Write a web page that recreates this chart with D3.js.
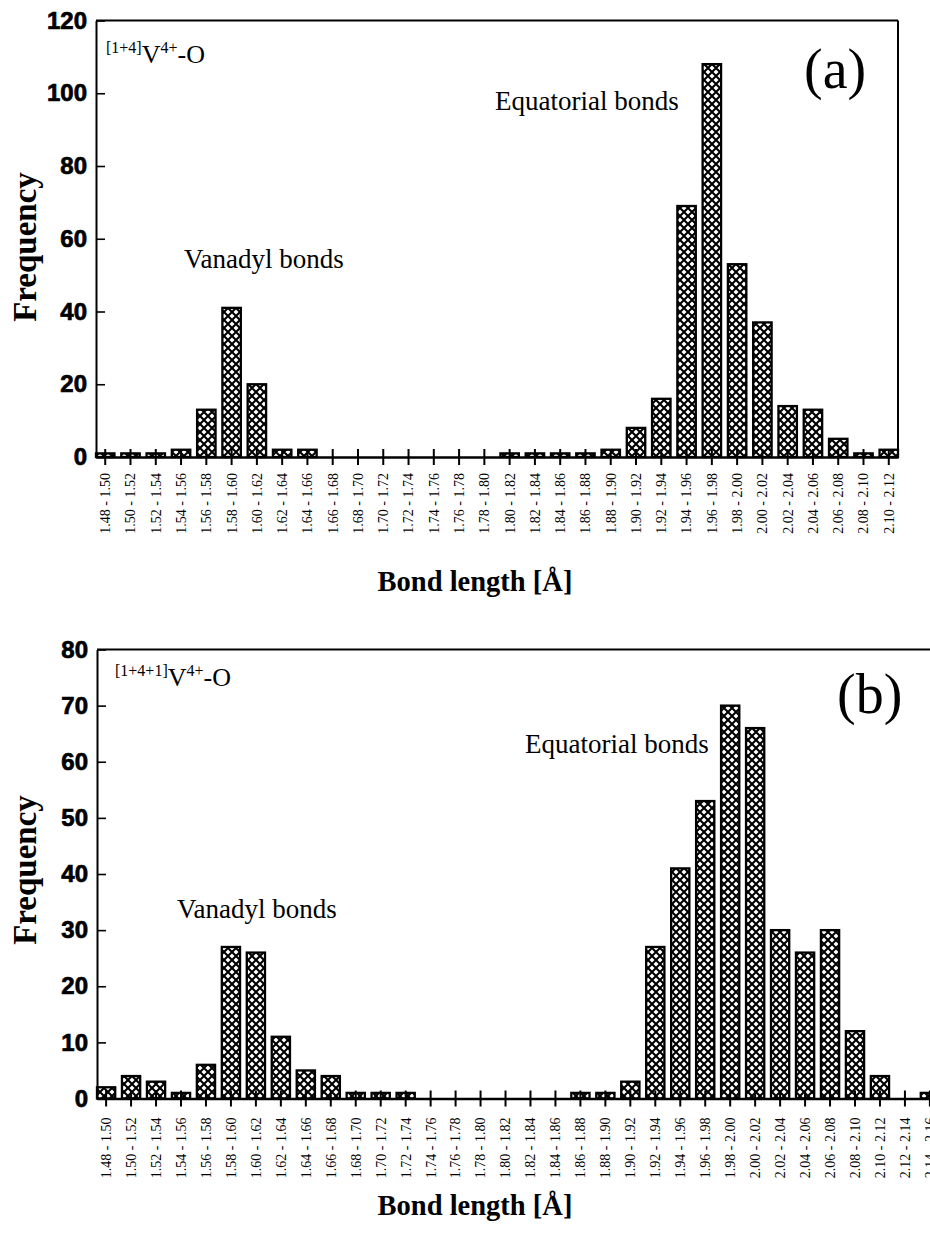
<!DOCTYPE html>
<html>
<head>
<meta charset="utf-8">
<script src="https://cdn.jsdelivr.net/npm/d3@7"></script>
<style>
  body { margin: 0; background: #fff; }
  svg { display: block; }
</style>
</head>
<body>
<div id="chart"></div>
<script>
// ------------------------------------
// Data
// ------------------------------------
const binsA = [
  "1.48 - 1.50", "1.50 - 1.52", "1.52 - 1.54", "1.54 - 1.56", "1.56 - 1.58",
  "1.58 - 1.60", "1.60 - 1.62", "1.62 - 1.64", "1.64 - 1.66", "1.66 - 1.68",
  "1.68 - 1.70", "1.70 - 1.72", "1.72 - 1.74", "1.74 - 1.76", "1.76 - 1.78",
  "1.78 - 1.80", "1.80 - 1.82", "1.82 - 1.84", "1.84 - 1.86", "1.86 - 1.88",
  "1.88 - 1.90", "1.90 - 1.92", "1.92 - 1.94", "1.94 - 1.96", "1.96 - 1.98",
  "1.98 - 2.00", "2.00 - 2.02", "2.02 - 2.04", "2.04 - 2.06", "2.06 - 2.08",
  "2.08 - 2.10", "2.10 - 2.12"
];
const countsA = [
  1, 1, 1, 2, 13, 41, 20, 2, 2, 0,
  0, 0, 0, 0, 0, 0, 1, 1, 1, 1,
  2, 8, 16, 69, 108, 53, 37, 14, 13, 5,
  1, 2
];
const yTicksA = [0, 20, 40, 60, 80, 100, 120];

const binsB = [
  "1.48 - 1.50", "1.50 - 1.52", "1.52 - 1.54", "1.54 - 1.56", "1.56 - 1.58",
  "1.58 - 1.60", "1.60 - 1.62", "1.62 - 1.64", "1.64 - 1.66", "1.66 - 1.68",
  "1.68 - 1.70", "1.70 - 1.72", "1.72 - 1.74", "1.74 - 1.76", "1.76 - 1.78",
  "1.78 - 1.80", "1.80 - 1.82", "1.82 - 1.84", "1.84 - 1.86", "1.86 - 1.88",
  "1.88 - 1.90", "1.90 - 1.92", "1.92 - 1.94", "1.94 - 1.96", "1.96 - 1.98",
  "1.98 - 2.00", "2.00 - 2.02", "2.02 - 2.04", "2.04 - 2.06", "2.06 - 2.08",
  "2.08 - 2.10", "2.10 - 2.12", "2.12 - 2.14", "2.14 - 2.16"
];
const countsB = [
  2, 4, 3, 1, 6, 27, 26, 11, 5, 4,
  1, 1, 1, 0, 0, 0, 0, 0, 0, 1,
  1, 3, 27, 41, 53, 70, 66, 30, 26, 30,
  12, 4, 0, 1
];
const yTicksB = [0, 10, 20, 30, 40, 50, 60, 70, 80];

// ------------------------------------
// Canvas
// ------------------------------------
const W = 930, H = 1245;
const serif = "'Liberation Serif', 'Times New Roman', Times, serif";
const sans = "'Liberation Sans', Arial, Helvetica, sans-serif";

const svg = d3.select("#chart").append("svg")
    .attr("width", W)
    .attr("height", H)
    .style("background", "#fff");

// crosshatch fill (white diamonds, black lines)
const defs = svg.append("defs");
const pat = defs.append("pattern")
    .attr("id", "hatch")
    .attr("patternUnits", "userSpaceOnUse")
    .attr("width", 8)
    .attr("height", 8);
pat.append("rect").attr("width", 8).attr("height", 8).attr("fill", "#fff");
pat.append("path")
    .attr("d", "M-1,-1 L9,9 M-1,9 L9,-1")
    .attr("stroke", "#000")
    .attr("stroke-width", 2.1);

// ------------------------------------
// One histogram panel
// ------------------------------------
function drawPanel(cfg) {
  const g = svg.append("g");

  const x = d3.scaleBand()
      .domain(cfg.bins)
      .range(cfg.xRange)
      .paddingInner(0.27)
      .paddingOuter(0);

  const y = d3.scaleLinear()
      .domain([0, d3.max(cfg.yTicks)])
      .range(cfg.yRange);

  // frame (top + optional right)
  g.append("line")
      .attr("x1", cfg.xRange[0]).attr("x2", cfg.frameRight)
      .attr("y1", y.range()[1]).attr("y2", y.range()[1])
      .attr("stroke", "#000").attr("stroke-width", 2);
  if (cfg.rightBorder) {
    g.append("line")
        .attr("x1", cfg.frameRight).attr("x2", cfg.frameRight)
        .attr("y1", y.range()[1]).attr("y2", y(0))
        .attr("stroke", "#000").attr("stroke-width", 2);
  }

  // bars
  g.selectAll("rect.bar")
      .data(cfg.counts.map((v, i) => ({ bin: cfg.bins[i], v })).filter(d => d.v > 0))
      .enter()
      .append("rect")
      .attr("class", "bar")
      .attr("x", d => x(d.bin))
      .attr("width", x.bandwidth())
      .attr("y", d => y(d.v))
      .attr("height", d => y(0) - y(d.v))
      .attr("fill", "url(#hatch)")
      .attr("stroke", "#000")
      .attr("stroke-width", 2.3);

  // x axis
  const xAxis = g.append("g")
      .attr("transform", `translate(0,${y(0)})`)
      .call(d3.axisBottom(x).tickSize(8).tickSizeOuter(0));
  xAxis.select(".domain").attr("stroke-width", 2.6);
  xAxis.selectAll(".tick line").attr("y1", -8).attr("stroke-width", 2);
  xAxis.selectAll(".tick text")
      .attr("font-family", serif)
      .attr("font-size", 14)
      .attr("fill", "#000")
      .attr("text-anchor", "end")
      .attr("y", 0)
      .attr("dy", "0.35em")
      .attr("transform", `translate(0,${cfg.labelGap}) rotate(-90)`);

  // y axis
  const yAxis = g.append("g")
      .attr("transform", `translate(${cfg.xRange[0]},0)`)
      .call(d3.axisLeft(y).tickValues(cfg.yTicks).tickSize(-9).tickPadding(9).tickSizeOuter(0));
  yAxis.select(".domain").attr("stroke-width", 2);
  yAxis.selectAll(".tick line").attr("stroke-width", 1.6);
  yAxis.selectAll(".tick text")
      .attr("font-family", sans)
      .attr("font-weight", "bold")
      .attr("font-size", 24)
      .attr("fill", "#000")
      .attr("stroke", "#000")
      .attr("stroke-width", 0.7);

  // axis titles
  g.append("text")
      .attr("transform", `translate(36,${cfg.yTitleY}) rotate(-90)`)
      .attr("text-anchor", "middle")
      .attr("font-family", serif)
      .attr("font-weight", "bold")
      .attr("font-size", 33)
      .text("Frequency");

  g.append("text")
      .attr("x", 475)
      .attr("y", cfg.xTitleY)
      .attr("text-anchor", "middle")
      .attr("font-family", serif)
      .attr("font-weight", "bold")
      .attr("font-size", 28.5)
      .text("Bond length [Å]");

  // species label with superscripts
  const sp = g.append("text")
      .attr("x", cfg.species.x)
      .attr("y", cfg.species.y)
      .attr("font-family", serif);
  sp.append("tspan").attr("font-size", 16).attr("dy", -10).text(cfg.species.pre);
  sp.append("tspan").attr("font-size", 26).attr("dy", 10).text("V");
  sp.append("tspan").attr("font-size", 16).attr("dy", -10).text("4+");
  sp.append("tspan").attr("font-size", 26).attr("dy", 10).text("-O");

  // annotations
  g.append("text")
      .attr("x", cfg.vanadyl[0]).attr("y", cfg.vanadyl[1])
      .attr("font-family", serif).attr("font-size", 27)
      .text("Vanadyl bonds");
  g.append("text")
      .attr("x", cfg.equatorial[0]).attr("y", cfg.equatorial[1])
      .attr("font-family", serif).attr("font-size", 27)
      .text("Equatorial bonds");
  g.append("text")
      .attr("x", cfg.panel[0]).attr("y", cfg.panel[1])
      .attr("font-family", serif).attr("font-size", 56)
      .text(cfg.panel[2]);
}

drawPanel({
  bins: binsA, counts: countsA, yTicks: yTicksA,
  xRange: [96, 898], yRange: [457, 20.5],
  frameRight: 898, rightBorder: true,
  labelGap: 16, yTitleY: 247, xTitleY: 591,
  species: { x: 106, y: 63, pre: "[1+4]" },
  vanadyl: [184, 268], equatorial: [495, 110], panel: [804, 88, "(a)"]
});

drawPanel({
  bins: binsB, counts: countsB, yTicks: yTicksB,
  xRange: [97, 939], yRange: [1098.5, 649.5],
  frameRight: 939, rightBorder: false,
  labelGap: 19, yTitleY: 870, xTitleY: 1215,
  species: { x: 115, y: 686, pre: "[1+4+1]" },
  vanadyl: [177, 918], equatorial: [525, 753], panel: [837, 713, "(b)"]
});
</script>
</body>
</html>
